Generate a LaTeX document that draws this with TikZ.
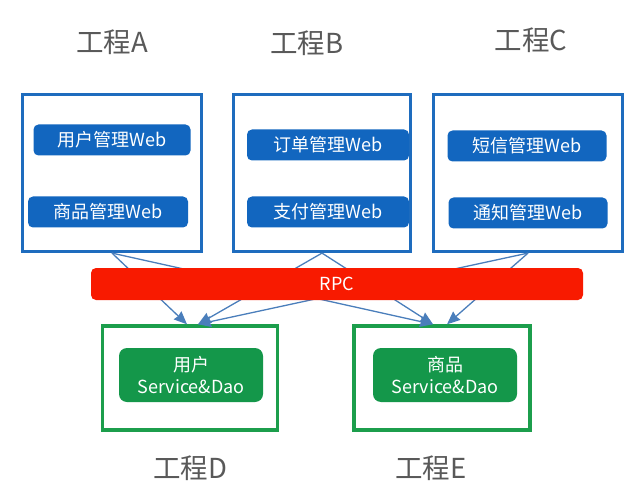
\documentclass[tikz,border=0pt]{standalone}
\usepackage{fontspec}
\setmainfont{Noto Sans CJK SC}
\usetikzlibrary{arrows.meta}

\definecolor{frameblue}{HTML}{1E6CBE}
\definecolor{webblue}{HTML}{1266BF}
\definecolor{framegreen}{HTML}{1C9E4C}
\definecolor{svcgreen}{HTML}{14974A}
\definecolor{rpcred}{HTML}{F81A00}
\definecolor{linkblue}{HTML}{4A7EBB}
\definecolor{titlegray}{HTML}{595959}

\tikzset{
  title/.style={text=titlegray, font=\fontsize{27.5}{30}\selectfont},
  proj/.style={draw=frameblue, line width=3.2pt, fill=white, minimum height=157pt},
  web/.style={fill=webblue, rounded corners=5pt, text=white, minimum height=31pt,
    inner sep=0pt, font=\fontsize{18}{22}\selectfont},
  svcproj/.style={draw=framegreen, line width=3.4pt, fill=white, minimum height=104pt},
  svc/.style={fill=svcgreen, rounded corners=8pt, text=white, minimum width=144pt,
    minimum height=54pt, inner sep=0pt, align=center,
    font=\fontsize{18}{22}\selectfont},
  link/.style={draw=linkblue, line width=1.3pt}
}

\begin{document}
\begin{tikzpicture}[x=1pt,y=-1pt,>={Stealth[length=13pt,width=11pt,inset=1pt]}]
  \useasboundingbox (0,0) rectangle (639,494);
  % titles
  \node[title] (tA) at (112,42) {工程A};
  \node[title] (tB) at (307,43) {工程B};
  \node[title] (tC) at (531,40) {工程C};
  \node[title] (tD) at (190,468) {工程D};
  \node[title] (tE) at (431,468) {工程E};

  % web projects
  \node[proj, minimum width=179pt] (pA) at (112,173) {};
  \node[proj, minimum width=177pt] (pB) at (322,173) {};
  \node[proj, minimum width=189pt] (pC) at (528,173) {};
  \node[web, minimum width=157pt] (wA1) at (112,140) {用户管理Web};
  \node[web, minimum width=160pt] (wA2) at (108,212) {商品管理Web};
  \node[web, minimum width=162pt] (wB1) at (328,145) {订单管理Web};
  \node[web, minimum width=162pt] (wB2) at (328,212) {支付管理Web};
  \node[web, minimum width=159pt] (wC1) at (527,146) {短信管理Web};
  \node[web, minimum width=159pt] (wC2) at (528,213) {通知管理Web};

  % service projects
  \node[svcproj, minimum width=175pt] (pD) at (190,378) {};
  \node[svcproj, minimum width=176pt] (pE) at (442,378) {};
  \node[svc] (sD) at (191,375) {用户\\Service\&Dao};
  \node[svc] (sE) at (445,375) {商品\\Service\&Dao};

  % calls
  \foreach \src/\dst/\dx in {pA/pD/-3, pB/pD/8, pC/pD/8, pA/pE/-9, pB/pE/-9, pC/pE/5}
    \draw[link, ->] (\src.south) -- ([xshift=\dx pt]\dst.north);

  \node[fill=rpcred, rounded corners=5pt, text=white, minimum width=492pt,
    minimum height=32pt, inner sep=0pt, font=\fontsize{18}{22}\selectfont]
    (rpc) at (337,284) {RPC};
\end{tikzpicture}
\end{document}
